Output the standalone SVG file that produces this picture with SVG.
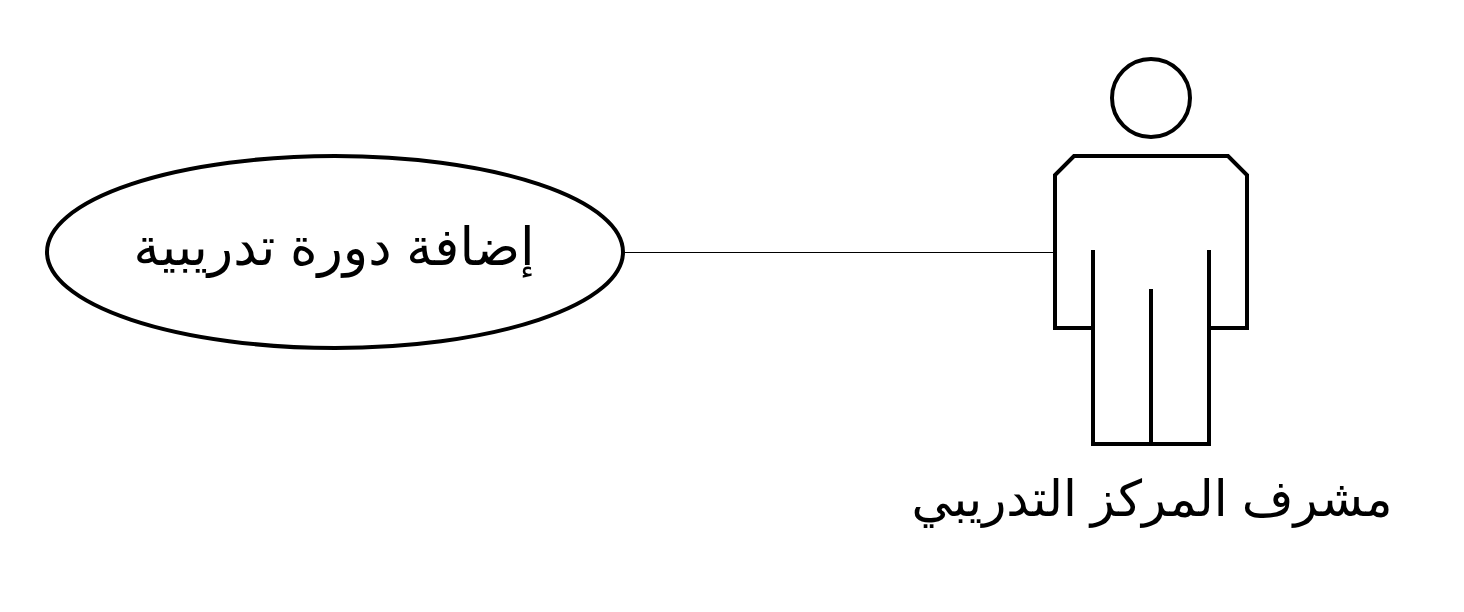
<svg xmlns="http://www.w3.org/2000/svg" width="1464" height="612" viewBox="0 0 1464 612">
<style>
.s{fill:none;stroke:#000;stroke-width:4}
.t{font-family:"Liberation Sans","DejaVu Sans",sans-serif;fill:#000;text-anchor:middle}
</style>
<rect width="1464" height="612" fill="#fff"/>
<g id="connectors"><line x1="624" y1="252.500" x2="1055" y2="252.500" stroke="#000" stroke-width="1"/></g>
<g id="usecase"><ellipse class="s" cx="335" cy="252" rx="288" ry="96"/><text class="t" x="334" y="265" font-size="52.500" direction="rtl">إضافة دورة تدريبية</text></g>
<g id="actor">
<circle class="s" cx="1151" cy="98" r="39"/>
<path class="s" d="M1074 156H1228L1247 175V328H1209V444H1093V328H1055V175Z"/>
<path class="s" d="M1093 250V328M1209 250V328M1151 289V444"/>
<text class="t" x="1152" y="516" font-size="50" direction="rtl">مشرف المركز التدريبي</text>
</g>
</svg>
